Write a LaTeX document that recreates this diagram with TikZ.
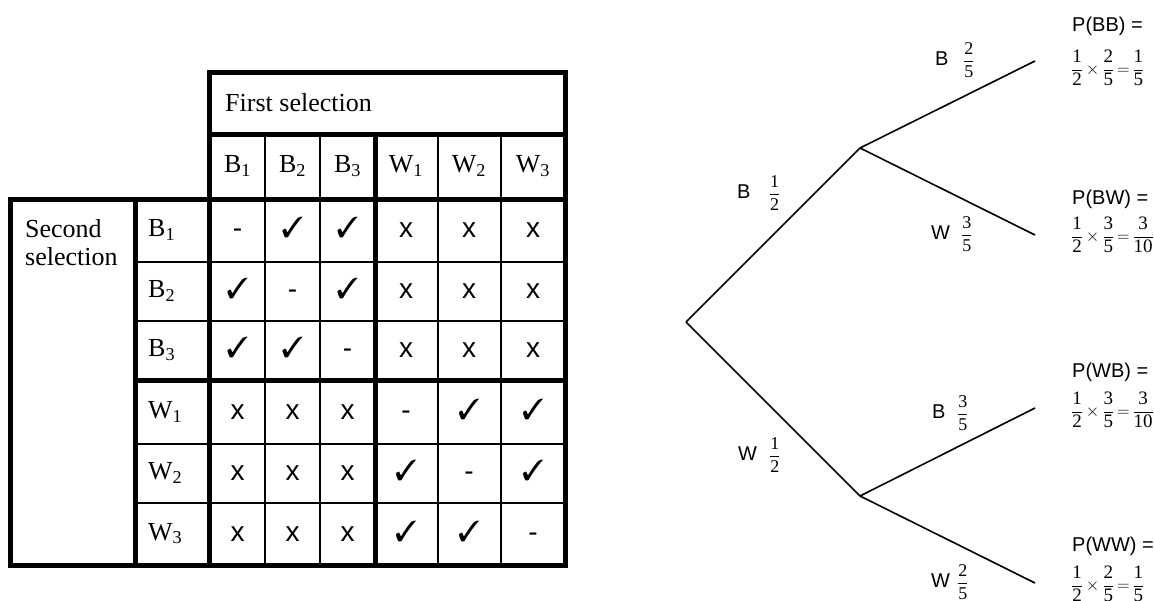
\documentclass[tikz,border=0pt]{standalone}
\usepackage{pifont}
\usepackage{fontspec}
\setmainfont{Liberation Serif}
\newfontfamily\sansf{Liberation Sans}
% fraction set in the text serif, full size
\newcommand\tfr[2]{{\displaystyle\frac{\textrm{#1}}{\textrm{#2}}}}
% product of two fractions with its result
\newcommand\prodline[3]{${#1}\,{\times}\,{#2}\,{=}\,{#3}$}
% branch letter in the sans face
\newcommand\blet[1]{{\sansf\fontsize{20}{22}\selectfont #1}}
\begin{document}
\begin{tikzpicture}[x=1pt,y=-1pt,
  thickrule/.style={line width=5pt},
  thinrule/.style={line width=2pt},
  tab/.style={font=\fontsize{26}{28}\selectfont, inner sep=0pt},
  yesmark/.style={font=\fontsize{29}{30}\selectfont, inner sep=0pt},
  nomark/.style={font=\sansf\fontsize{28}{30}\selectfont, inner sep=0pt},
  branch/.style={line width=1.6pt},
  blab/.style={font=\fontsize{18}{20}\selectfont, inner sep=0pt, anchor=west},
  ptitle/.style={font=\sansf\fontsize{20}{22}\selectfont, inner sep=0pt, anchor=west},
  pcalc/.style={font=\fontsize{19}{21}\selectfont, inner sep=0pt, anchor=west}]
\useasboundingbox (0,0) rectangle (1154,601);
\fill[white] (0,0) rectangle (1154,601);

% ---- table of pairs ----
\draw[thickrule] (209.5,73) rectangle (565,565);
\draw[thickrule] (10,199.5) rectangle (565,565);
\draw[thickrule] (209.5,135) -- (565,135);
\draw[thickrule] (135,199.5) -- (135,565);
\draw[thickrule] (375,135) -- (375,565);
\draw[thickrule] (135,381) -- (565,381);
\foreach \xx in {265,320,437.5,501}
  \draw[thinrule] (\xx,135) -- (\xx,565);
\foreach \yy in {262,321,444,503}
  \draw[thinrule] (135,\yy) -- (565,\yy);

\node[tab, anchor=base west] (first) at (225,112) {First selection};
\node[tab, anchor=north west, align=left] (second) at (25,219)
  {Second\\selection};

\foreach \c/\xc/\lab in {1/237.5/B\textsubscript{1},2/292.5/B\textsubscript{2},
  3/347.5/B\textsubscript{3},4/406/W\textsubscript{1},5/469/W\textsubscript{2},
  6/533/W\textsubscript{3}}
  \node[tab, anchor=base] (col\c) at (\xc,173) {\lab};

\foreach \r/\yc/\lab in {1/231/B\textsubscript{1},2/291.5/B\textsubscript{2},
  3/351/B\textsubscript{3},4/412.5/W\textsubscript{1},5/473.5/W\textsubscript{2},
  6/534/W\textsubscript{3}}{
  \node[tab, anchor=base west] (row\r) at (148,\yc+6) {\lab};
  \foreach \c/\xc in {1/237.5,2/292.5,3/347.5,4/406,5/469,6/533}{
    \pgfmathtruncatemacro\gr{(\r-1)/3}
    \pgfmathtruncatemacro\gc{(\c-1)/3}
    \ifnum\r=\c
      \node[nomark, anchor=base] (d\r\c) at (\xc,\yc+7) {-};
    \else\ifnum\gr=\gc
      \node[yesmark, anchor=base] (d\r\c) at (\xc,\yc+7) {\ding{51}};
    \else
      \node[nomark, anchor=base] (d\r\c) at (\xc,\yc+7) {x};
    \fi\fi
  }
}

% ---- probability tree ----
\coordinate (root) at (686,322);
\coordinate (nb) at (860,148);
\coordinate (nw) at (860,496);
\coordinate (lbb) at (1035,61);
\coordinate (lbw) at (1035,235);
\coordinate (lwb) at (1035,408);
\coordinate (lww) at (1035,583);
\draw[branch] (root) -- (nb);
\draw[branch] (root) -- (nw);
\draw[branch] (nb) -- (lbb);
\draw[branch] (nb) -- (lbw);
\draw[branch] (nw) -- (lwb);
\draw[branch] (nw) -- (lww);

\node[blab] (lab-b) at (737,193) {\blet{B}\hspace{18.5pt}$\tfr12$};
\node[blab] (lab-w) at (738,455) {\blet{W}\hspace{12pt}$\tfr12$};
\node[blab] (lab-bb) at (935,60) {\blet{B}\hspace{14.5pt}$\tfr25$};
\node[blab] (lab-bw) at (931,234) {\blet{W}\hspace{11pt}$\tfr35$};
\node[blab] (lab-wb) at (932,413) {\blet{B}\hspace{11.5pt}$\tfr35$};
\node[blab] (lab-ww) at (931,582) {\blet{W}\hspace{7pt}$\tfr25$};

\node[ptitle] (pbb) at (1072,26) {P(BB) =};
\node[pcalc] (cbb) at (1071,68) {\prodline{\tfr12}{\tfr25}{\tfr15}};
\node[ptitle] (pbw) at (1072,199) {P(BW) =};
\node[pcalc] (cbw) at (1071,235) {\prodline{\tfr12}{\tfr35}{\tfr3{10}}};
\node[ptitle] (pwb) at (1072,372) {P(WB) =};
\node[pcalc] (cwb) at (1071,410) {\prodline{\tfr12}{\tfr35}{\tfr3{10}}};
\node[ptitle] (pww) at (1072,546) {P(WW) =};
\node[pcalc] (cww) at (1071,584) {\prodline{\tfr12}{\tfr25}{\tfr15}};
\end{tikzpicture}
\end{document}
